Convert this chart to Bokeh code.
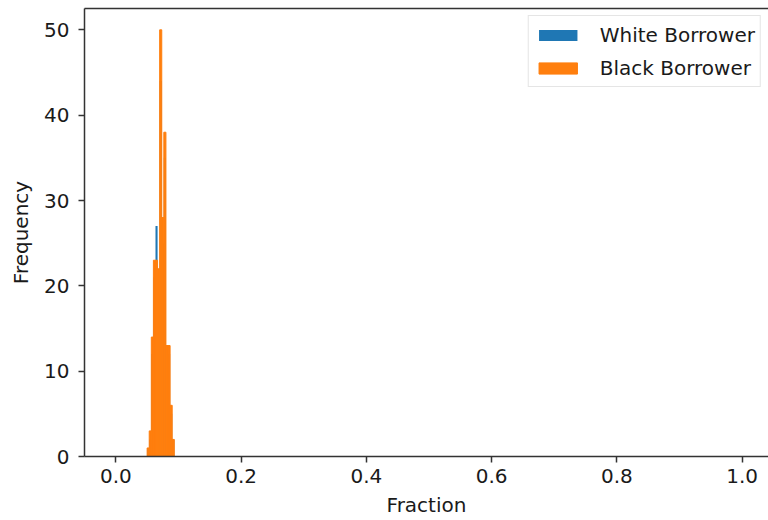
from bokeh.plotting import figure
from bokeh.models import LinearAxis, FixedTicker, Range1d, Legend, LegendItem, ColumnDataSource
from bokeh.embed import file_html
from bokeh.resources import INLINE

# Histogram: 300 equal bins over [0, 1]; only the non-empty bins are listed
n_bins = 300
bin_index = [15, 16, 17, 18, 19, 20, 21, 22, 23, 24, 25, 26, 27]
white_counts = [1, 2, 12, 21, 27, 19, 44, 25, 35, 11, 12, 5, 2]
black_counts = [1, 3, 14, 23, 23, 22, 50, 28, 38, 13, 13, 6, 2]
series_labels = ["White Borrower", "Black Borrower"]
x_ticks = [0.0, 0.2, 0.4, 0.6, 0.8, 1.0]
y_ticks = [0, 10, 20, 30, 40, 50]

FONT = "DejaVu Sans"
FS = "20px"
TXT = "#1a1a1a"
AX = "#333333"
BLUE = "#1f77b4"
ORANGE = "#ff7f0e"

left = [i / n_bins for i in bin_index]
right = [(i + 1) / n_bins for i in bin_index]

src_w = ColumnDataSource(dict(left=left, right=right, top=white_counts))
src_b = ColumnDataSource(dict(left=left, right=right, top=black_counts))

p = figure(width=768, height=520, output_backend="svg", toolbar_location=None,
           x_range=Range1d(-0.05, 1.042), y_range=Range1d(0, 52.5),
           min_border_left=84, min_border_right=0, min_border_top=8,
           min_border_bottom=64, outline_line_color=None)
p.background_fill_color = "white"
p.border_fill_color = "white"
p.xgrid.visible = False
p.ygrid.visible = False

# the front series gets an edge in its own colour so it fully covers the one behind
r_w = p.quad(left="left", right="right", bottom=0, top="top", source=src_w,
             fill_color=BLUE, line_color=None)
r_b = p.quad(left="left", right="right", bottom=0, top="top", source=src_b,
             fill_color=ORANGE, line_color=ORANGE, line_width=1.0)

for ax in (p.xaxis[0], p.yaxis[0]):
    ax.axis_line_color = AX
    ax.axis_line_width = 1.5
    ax.major_tick_line_color = AX
    ax.major_tick_line_width = 1.5
    ax.major_tick_out = 6
    ax.major_tick_in = 0
    ax.minor_tick_line_color = None
    ax.major_label_text_font = FONT
    ax.major_label_text_font_size = FS
    ax.major_label_text_color = TXT
    ax.axis_label_text_font = FONT
    ax.axis_label_text_font_size = FS
    ax.axis_label_text_font_style = "normal"
    ax.axis_label_text_color = TXT

p.xaxis[0].ticker = FixedTicker(ticks=x_ticks)
p.xaxis[0].major_label_overrides = {t: f"{t:.1f}" for t in x_ticks}
p.xaxis[0].axis_label = "Fraction"
p.xaxis[0].major_label_standoff = 6
p.xaxis[0].axis_label_standoff = 7

p.yaxis[0].ticker = FixedTicker(ticks=y_ticks)
p.yaxis[0].axis_label = "Frequency"
p.yaxis[0].major_label_standoff = 9
p.yaxis[0].axis_label_standoff = 8

# top spine
top = LinearAxis(ticker=FixedTicker(ticks=[]), axis_line_color=AX, axis_line_width=1.5,
                 major_tick_out=0, major_tick_in=0, minor_tick_out=0, minor_tick_in=0,
                 major_label_text_font_size="0px", major_label_standoff=0)
p.add_layout(top, "above")

legend = Legend(items=[LegendItem(label=series_labels[0], renderers=[r_w]),
                       LegendItem(label=series_labels[1], renderers=[r_b])],
                location="top_right", margin=7, padding=5, spacing=6,
                glyph_width=48, glyph_height=14, label_height=27,
                label_standoff=18, label_text_font=FONT,
                label_text_font_size=FS, label_text_color=TXT,
                border_line_color="#cccccc", border_line_width=1.5,
                background_fill_alpha=0.8)
p.add_layout(legend)

open("out.html", "w").write(file_html(p, INLINE))
